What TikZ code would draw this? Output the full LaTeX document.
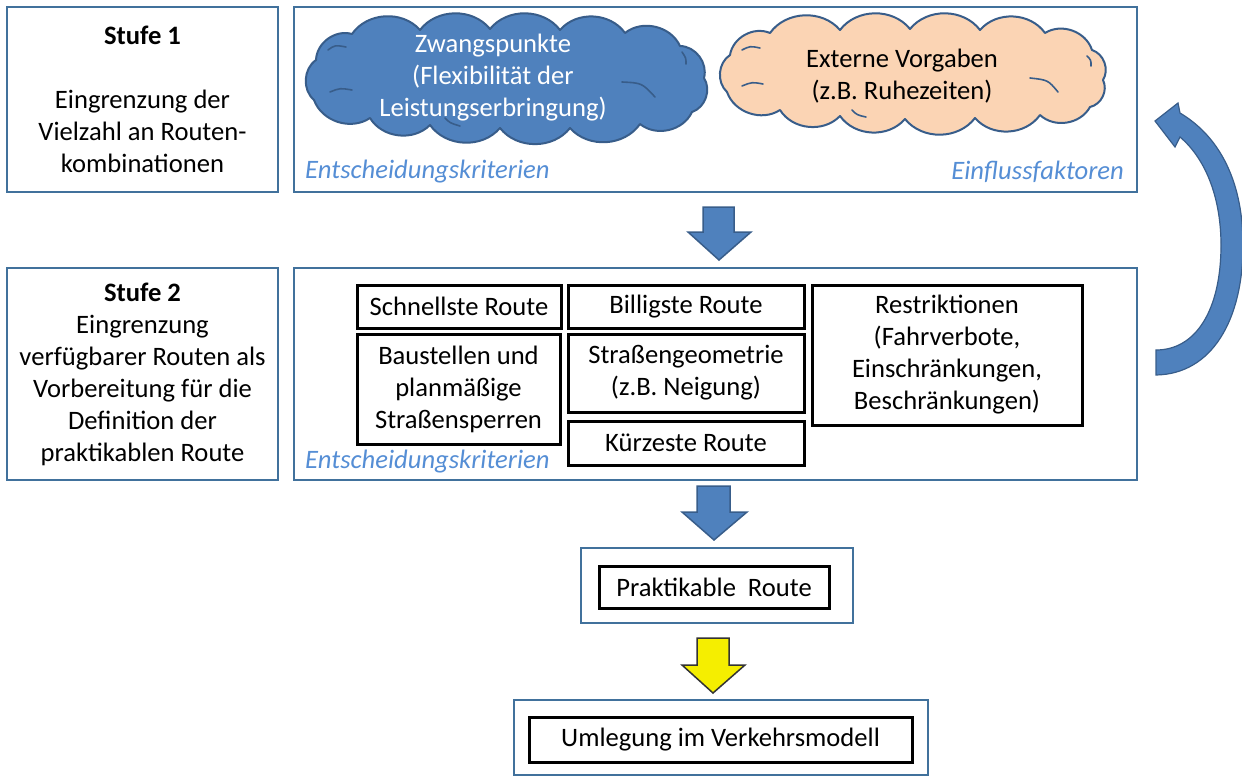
\documentclass[tikz,border=0pt]{standalone}
\usepackage{fontspec}
\setmainfont{Carlito}
\definecolor{boxblue}{HTML}{41719C}
\definecolor{arrowblue}{HTML}{4F81BD}
\definecolor{arrowedge}{HTML}{385D8A}
\definecolor{labelblue}{HTML}{558ED5}
\definecolor{peach}{HTML}{FBD4B4}
\definecolor{yel}{HTML}{F5EE00}
\begin{document}
\begin{tikzpicture}[x=1pt,y=-1pt,
  every node/.style={font=\fontsize{26.6}{32}\selectfont, inner sep=0pt, align=center},
  bluebox/.style={draw=boxblue, line width=2pt, fill=white},
  blackbox/.style={draw=black, line width=3pt, fill=white},
  lbl/.style={text=labelblue, font=\fontsize{26.6}{32}\selectfont\itshape},
  blockarrow/.style={draw=arrowedge, fill=arrowblue, line width=1.5pt, line join=miter},
  cloudline/.style={draw=arrowedge, line width=2pt, line join=round},
  innerline/.style={draw=arrowedge, line width=1.6pt, line cap=round},
  puff/.style={bend left=52}
]
\useasboundingbox (0,0) rectangle (1242,776);

% Stufe 1
\node[bluebox, minimum width=271pt, minimum height=185pt] (s1) at (142.5,99.5)
  {\textbf{Stufe 1}\\[32pt]Eingrenzung der\\Vielzahl an Routen-\\kombinationen};
\node[bluebox, minimum width=843pt, minimum height=185pt] (r1) at (715.5,99.5) {};

% cloud 1
\draw[cloudline, fill=arrowblue] (314,100) to[puff] (316,60) to[puff] (352,34) to[puff] (420,30)
  to[puff] (490,29) to[puff] (560,30) to[puff] (625,33) to[puff] (680,46) to[puff] (704,78)
  to[puff] (692,112) to[puff] (640,124) to[puff] (570,128) to[puff] (500,128) to[puff] (430,125)
  to[puff] (370,118) to[puff] (314,100) -- cycle;
\draw[innerline] (328,50) .. controls (335,45) .. (346,47);
\draw[innerline] (330,92) .. controls (340,88) .. (352,90);
\draw[innerline] (445,118) .. controls (450,123) .. (460,126);
\draw[innerline] (622,82) .. controls (642,83) .. (655,97);
\draw[innerline] (682,52) .. controls (686,58) .. (686,64);
\node[text=white] (c1t) at (493,78) {Zwangspunkte\\(Flexibilität der\\Leistungserbringung)};

% cloud 2
\draw[cloudline, fill=peach] (727,92) to[puff] (730,55) to[puff] (770,33) to[puff] (840,30)
  to[puff] (910,29) to[puff] (980,30) to[puff] (1045,33) to[puff] (1092,50) to[puff] (1103,80)
  to[puff] (1090,107) to[puff] (1040,115) to[puff] (975,118) to[puff] (905,119) to[puff] (840,116)
  to[puff] (780,110) to[puff] (727,92) -- cycle;
\draw[innerline] (742,50) .. controls (750,46) .. (760,48);
\draw[innerline] (742,86) .. controls (752,82) .. (763,84);
\draw[innerline] (852,110) .. controls (857,115) .. (866,117);
\draw[innerline] (1030,78) .. controls (1048,80) .. (1058,92);
\draw[innerline] (1087,56) .. controls (1091,60) .. (1091,66);
\node (c2t) at (902,76) {Externe Vorgaben\\(z.B. Ruhezeiten)};

\node[lbl, anchor=west] (l1) at (305,172) {Entscheidungskriterien};
\node[lbl, anchor=east] (l2) at (1124,172) {Einflussfaktoren};

% arrow 1
\draw[blockarrow] (703,207) -- (734,207) -- (734,232) -- (751,232) -- (719,260) -- (688,232) -- (703,232) -- cycle;

% Stufe 2
\node[bluebox, minimum width=271pt, minimum height=212pt] (s2) at (142.5,374)
  {\textbf{Stufe 2}\\Eingrenzung\\verfügbarer Routen als\\Vorbereitung für die\\Definition der\\praktikablen Route};
\node[bluebox, minimum width=843pt, minimum height=212pt] (r2) at (715.5,374) {};
\node[blackbox, minimum width=204pt, minimum height=43pt] (schnell) at (459,306.5) {Schnellste Route};
\node[blackbox, minimum width=236pt, minimum height=43pt] (billig) at (686,306.5) {Billigste Route};
\node[blackbox, minimum width=203pt, minimum height=110pt] (baust) at (458.5,389) {Baustellen und\\planmäßige\\Straßensperren};
\node[blackbox, minimum width=236pt, minimum height=78pt] (geom) at (686,373) {Straßengeometrie\\(z.B. Neigung)};
\node[blackbox, minimum width=236pt, minimum height=44pt] (kurz) at (686,443) {Kürzeste Route};
\node[blackbox, minimum width=270pt, minimum height=140pt] (restr) at (947,355) {Restriktionen\\(Fahrverbote,\\Einschränkungen,\\Beschränkungen)};
\node[lbl, anchor=west] (l3) at (305,462) {Entscheidungskriterien};

% arrow 2
\draw[blockarrow] (697,486) -- (730,486) -- (730,512) -- (747,512) -- (714,540) -- (682,512) -- (697,512) -- cycle;

% Praktikable Route
\node[bluebox, minimum width=272pt, minimum height=75pt] (prakout) at (717,585.5) {};
\node[blackbox, minimum width=230pt, minimum height=42pt] (prak) at (714,587) {Praktikable\ \ Route};

% yellow arrow
\draw[draw=black!80, fill=yel, line width=1.5pt] (697,638) -- (729,638) -- (729,665) -- (745,665) -- (713,693) -- (682,665) -- (697,665) -- cycle;

% Umlegung
\node[bluebox, minimum width=414pt, minimum height=75pt] (umlout) at (721,737.5) {};
\node[blackbox, minimum width=383pt, minimum height=45pt] (uml) at (720.5,739.5) {Umlegung im Verkehrsmodell};

% curved arrow
\draw[blockarrow, line width=1.2pt] (1156,375) .. controls (1212,374) and (1243,320) .. (1243,245)
  .. controls (1243,185) and (1222,138) .. (1180,113) -- (1178,103) -- (1155,121) -- (1175,147) -- (1180,137)
  .. controls (1207,160) and (1221,200) .. (1221,245) .. controls (1221,310) and (1196,350) .. (1156,350) -- cycle;
\end{tikzpicture}
\end{document}
